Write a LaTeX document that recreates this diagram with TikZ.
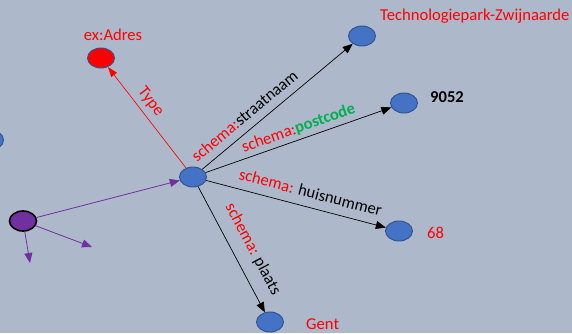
\documentclass[tikz,border=0pt]{standalone}
\usepackage{fontspec}
\setmainfont{Carlito}
\usetikzlibrary{arrows.meta,shapes.geometric}

\definecolor{canvasbg}{RGB}{173,185,202}
\definecolor{nodeblue}{RGB}{68,114,196}
\definecolor{nodeline}{RGB}{47,82,143}
\definecolor{txtred}{RGB}{255,0,0}
\definecolor{txtgreen}{RGB}{0,176,80}
\definecolor{nodepurple}{RGB}{112,48,160}
\definecolor{linepurple}{RGB}{112,48,160}

\tikzset{
  bnode/.style={ellipse, draw=nodeline, line width=0.9pt, fill=nodeblue,
    minimum width=27pt, minimum height=20pt, inner sep=0pt},
  rnode/.style={bnode, fill=txtred},
  pnode/.style={ellipse, draw=black, line width=1.6pt, fill=nodepurple,
    minimum width=27pt, minimum height=20pt, inner sep=0pt},
  valtxt/.style={inner sep=0pt, text=txtred},
  blackarrow/.style={draw=black, line width=0.7pt,
    -{Triangle[length=10pt,width=8pt]}},
  redarrow/.style={draw=txtred, line width=0.65pt,
    -{Triangle[length=10pt,width=7pt]}},
  purplearrow/.style={draw=linepurple, line width=0.8pt,
    -{Triangle[length=10pt,width=8pt]}},
  elabel/.style={sloped, inner sep=0pt, text height=11pt, text depth=3pt},
}

\begin{document}
\begin{tikzpicture}[x=1pt, y=-1pt, font=\fontsize{16.6}{19}\selectfont]
  \fill[canvasbg] (0,0) rectangle (572,333);
  \useasboundingbox (0,0) rectangle (572,333);

  % resources
  \node[bnode] (C) at (193,177) {};
  \node[rnode] (A) at (101,58) {};
  \node[bnode] (T) at (362,36) {};
  \node[bnode] (P) at (404,103) {};
  \node[bnode] (H) at (399,231) {};
  \node[bnode] (G) at (270,322) {};
  \node[pnode] (V) at (23,221) {};
  \node[bnode] (L) at (-10,140) {};

  % literal values and class name
  \node[valtxt] (lA) at (113,35) {ex:Adres};
  \node[valtxt, anchor=west] (lT) at (380,16) {Technologiepark-Zwijnaarde};
  \node[inner sep=0pt, anchor=west, font=\fontsize{16.6}{19}\selectfont\bfseries] (lP) at (430,97) {9052};
  \node[valtxt, anchor=west] (lH) at (427,233) {68};
  \node[valtxt, anchor=west] (lG) at (306,324) {Gent};

  % properties of the address
  \draw[redarrow] (C) -- node[elabel, pos=0.58, above=5pt, text=txtred] (eType) {Type} (A);
  \draw[blackarrow] (C) -- node[elabel, pos=0.34, above=5pt] (eStraat)
    {\textcolor{txtred}{schema:}straatnaam} (T);
  \draw[blackarrow] (C) -- node[elabel, pos=0.52, above=3pt] (ePost)
    {\textcolor{txtred}{schema:}\textcolor{txtgreen}{\bfseries postcode}} (P);
  \draw[blackarrow] (C) -- node[elabel, pos=0.56, above=6pt] (eHuis)
    {\textcolor{txtred}{schema:} huisnummer} (H);
  \draw[blackarrow] (C) -- node[elabel, pos=0.57, above=11pt] (ePlaats)
    {\textcolor{txtred}{schema:} plaats} (G);

  % incoming and outgoing links of the purple resource
  \coordinate (o1) at (92,247);
  \coordinate (o2) at (30,263);
  \draw[purplearrow] (V) -- (C);
  \draw[purplearrow] (V) -- (o1);
  \draw[purplearrow] (V) -- (o2);
\end{tikzpicture}
\end{document}
